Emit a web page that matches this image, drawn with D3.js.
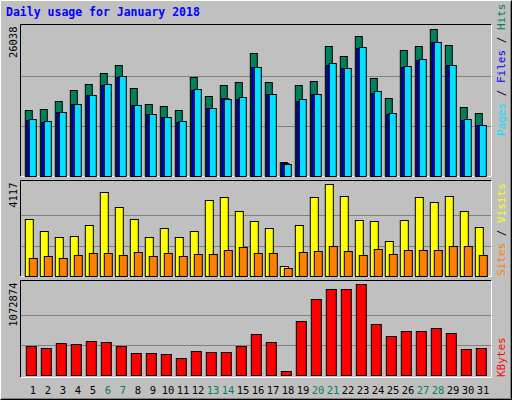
<!DOCTYPE html><html><head><meta charset="utf-8">
<script src="https://cdn.jsdelivr.net/npm/d3@7"></script>
<style>body{margin:0;background:#fff}</style></head><body>
<svg id="c" width="512" height="400"></svg>
<script>
const days = d3.range(1,32);
const weekends = [6,7,13,14,20,21,27,28];
const hits = [11413,11585,12961,14854,15886,17779,19155,15198,12445,12101,11413,17090,13821,15714,16230,21220,16230,2466,15714,16402,22424,20703,24144,16918,13477,21736,22424,25349,22596,11929,10897];
const files = [9750,9348,11069,12445,13993,15771,17090,12273,10724,10208,9348,14854,11757,13477,13305,18811,14165,2294,12961,14165,19155,18639,22080,14338,10724,18811,20015,23112,19155,9692,8947];
const pages = [9864,9520,11069,12445,13993,15886,17262,12273,10724,10208,9520,15026,11757,13305,13649,18811,14165,2122,13305,14165,19499,18639,22252,14682,10897,18983,20187,23112,19155,9864,8832];
const visits = [2551,2014,1746,1790,2283,3760,3088,2551,1746,2148,1746,2014,3402,3536,2909,2462,2148,448,2283,3536,4117,3581,2507,2462,1567,2507,3536,3312,3581,2909,2193];
const sites = [806,895,806,940,1029,1029,940,1074,895,1029,895,985,985,1164,1298,1029,1029,358,1074,1119,1343,1119,940,1209,985,1164,1164,1164,1343,1343,940];
const kbytes = [351090,327684,386199,374496,409605,397902,351090,269169,269169,257466,210654,292575,280872,280872,351090,491526,397902,58515,643665,901131,1018161,1018161,1072874,608556,468120,526635,526635,561744,503229,315981,327684];
const maxLabels = ["26038","4117","1072874"];

const svg = d3.select("#c");
const FONT = "DejaVu Sans Mono, monospace";
// background & 3D border
svg.append("rect").attr("width",512).attr("height",400).attr("fill","#c0c0c0");
svg.append("path").attr("d","M0.5,399.5V0.5H511.5").attr("stroke","#fff").attr("fill","none");
svg.append("path").attr("d","M1.5,398.5H510.5V1.5").attr("stroke","#808080").attr("fill","none");
svg.append("path").attr("d","M0.5,399.5H511.5V0.5").attr("stroke","#000").attr("fill","none");
svg.append("text").attr("x",6).attr("y",16).attr("fill","#0000ff").attr("font-family",FONT)
  .attr("font-weight","bold").attr("font-size",11.5).text("Daily usage for January 2018");

const x = d3.scaleBand().domain(days).range([20.5,485.5]).paddingInner(0).paddingOuter(0);
// x.bandwidth = 15
const panels = [
  {top:24.5,bot:176.5,base:176.5,maxY:25.3,max:26038},
  {top:180.5,bot:276.5,base:276.5,maxY:184.3,max:4117},
  {top:280.5,bot:377.5,base:375.5,maxY:284.3,max:1072874}
];
panels.forEach((p,i)=>{
  p.y = d3.scaleLinear().domain([0,p.max]).range([p.base,p.maxY]);
  svg.append("rect").attr("x",20.5).attr("y",p.top).attr("width",471).attr("height",p.bot-p.top)
    .attr("fill","#c0c0c0").attr("stroke","none");
  svg.append("path").attr("d",`M20.5,${p.bot}V${p.top}H491.5`).attr("stroke","#000").attr("fill","none");
  svg.append("path").attr("d",`M20.5,${p.bot}H491.5V${p.top}`).attr("stroke","#fff").attr("fill","none");
  const step=(p.base-p.maxY)/3;
  [1,2].forEach(k=>{
    const gy=Math.round(p.base-step*k)+0.5;
    svg.append("line").attr("x1",21).attr("x2",491).attr("y1",gy).attr("y2",gy).attr("stroke","#808080");
  });
  svg.append("text").attr("transform",`translate(17,${p.top+2}) rotate(-90)`).attr("text-anchor","end")
    .attr("font-family",FONT).attr("font-size",10.5).attr("fill","#000").text(maxLabels[i]);
});
function bars(data,p,dx,w,color){
  svg.append("g").selectAll("rect").data(data).join("rect")
    .attr("x",(d,i)=>x(days[i])+dx).attr("width",w)
    .attr("y",d=>Math.round(p.y(d))+0.5).attr("height",d=>Math.max(0,p.base-Math.round(p.y(d))-0.5))
    .attr("fill",color).attr("stroke","#000").attr("stroke-width",1);
}
bars(hits,panels[0],4.8,7,"#00805c");
bars(files,panels[0],6.3,7,"#0000ff");
bars(pages,panels[0],8.8,7,"#00e0ff");
bars(visits,panels[1],4.8,8,"#ffff00");
bars(sites,panels[1],8.8,8,"#ff8000");
bars(kbytes,panels[2],5.8,10,"#ff0000");

svg.append("g").selectAll("text").data(days).join("text")
  .attr("x",d=>x(d)+12.5).attr("y",394).attr("text-anchor","middle")
  .attr("font-family",FONT).attr("font-size",10.5)
  .attr("fill",d=>weekends.includes(d)?"#00805c":"#000").text(d=>d);

function sideLabel(y,parts){
  const t=svg.append("text").attr("transform",`translate(505,${y}) rotate(-90)`)
    .attr("font-family",FONT).attr("font-size",11);
  parts.forEach(([s,c])=>t.append("tspan").attr("fill",c).text(s));
}
sideLabel(136,[["Pages","#00e0ff"],[" / ","#000"],["Files","#0000ff"],[" / ","#000"],["Hits","#00805c"]]);
sideLabel(276,[["Sites","#ff8000"],[" / ","#000"],["Visits","#ffff00"]]);
sideLabel(377,[["KBytes","#ff0000"]]);
</script></body></html>
